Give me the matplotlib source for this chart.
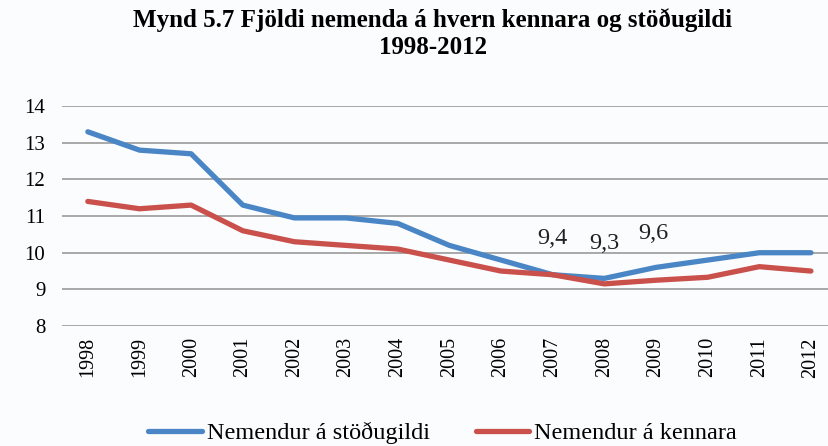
import matplotlib
matplotlib.use("Agg")
import matplotlib.pyplot as plt

years = [str(y) for y in range(1998, 2013)]
stodugildi = [13.3, 12.8, 12.7, 11.3, 10.95, 10.95, 10.8, 10.2, 9.8, 9.4, 9.3, 9.6, 9.8, 10.0, 10.0]
kennara = [11.4, 11.2, 11.3, 10.6, 10.3, 10.2, 10.1, 9.8, 9.5, 9.4, 9.15, 9.25, 9.33, 9.62, 9.5]
label_idx = [9, 10, 11]
label_txt = ["9,4", "9,3", "9,6"]
label_dy = [1.0, 0.96, 0.93]
label_dx = [0.0, 0.0, -0.05]

plt.rcParams['font.family'] = ['Liberation Serif', 'DejaVu Serif']

fig = plt.figure(figsize=(8.29, 4.46), dpi=100)
fig.patch.set_facecolor('#fbfcfe')
ax = fig.add_axes([0.0748, 0.269, 0.9252, 0.493])
ax.set_facecolor('#fbfcfe')

x = list(range(len(years)))
ax.plot(x, stodugildi, color='#4a86c5', lw=3.8, label='Nemendur á stöðugildi', solid_capstyle='round')
ax.plot(x, kennara, color='#c9504b', lw=3.8, label='Nemendur á kennara', solid_capstyle='round')

for i, t, dy, dx in zip(label_idx, label_txt, label_dy, label_dx):
    ax.text(x[i] + dx, stodugildi[i] + dy, t, ha='center', va='center', fontsize=17.5, color='#222222')

ax.set_xlim(-0.5, 14.35)
ax.set_ylim(8, 14)
ax.set_yticks(range(8, 15))
ax.set_xticks(x)
ax.set_xticklabels(years, rotation=90, fontsize=14.5)
ax.tick_params(axis='y', labelsize=15, length=0, pad=12)
ax.tick_params(axis='x', length=0, pad=8)
ax.grid(axis='y', color='#a8a8a8', lw=1.4)
ax.set_axisbelow(True)
for s in ax.spines.values():
    s.set_visible(False)

fig.text(0.522, 0.982, 'Mynd 5.7 Fjöldi nemenda á hvern kennara og stöðugildi\n1998-2012',
         ha='center', va='top', fontsize=18, fontweight='bold', linespacing=1.25)

fig.legend(loc='lower center', bbox_to_anchor=(0.534, -0.045), ncol=2, frameon=False,
           fontsize=17.5, handlelength=2.2, handletextpad=0.2, columnspacing=1.9)

fig.savefig('out.png', dpi=100, facecolor=fig.get_facecolor())
